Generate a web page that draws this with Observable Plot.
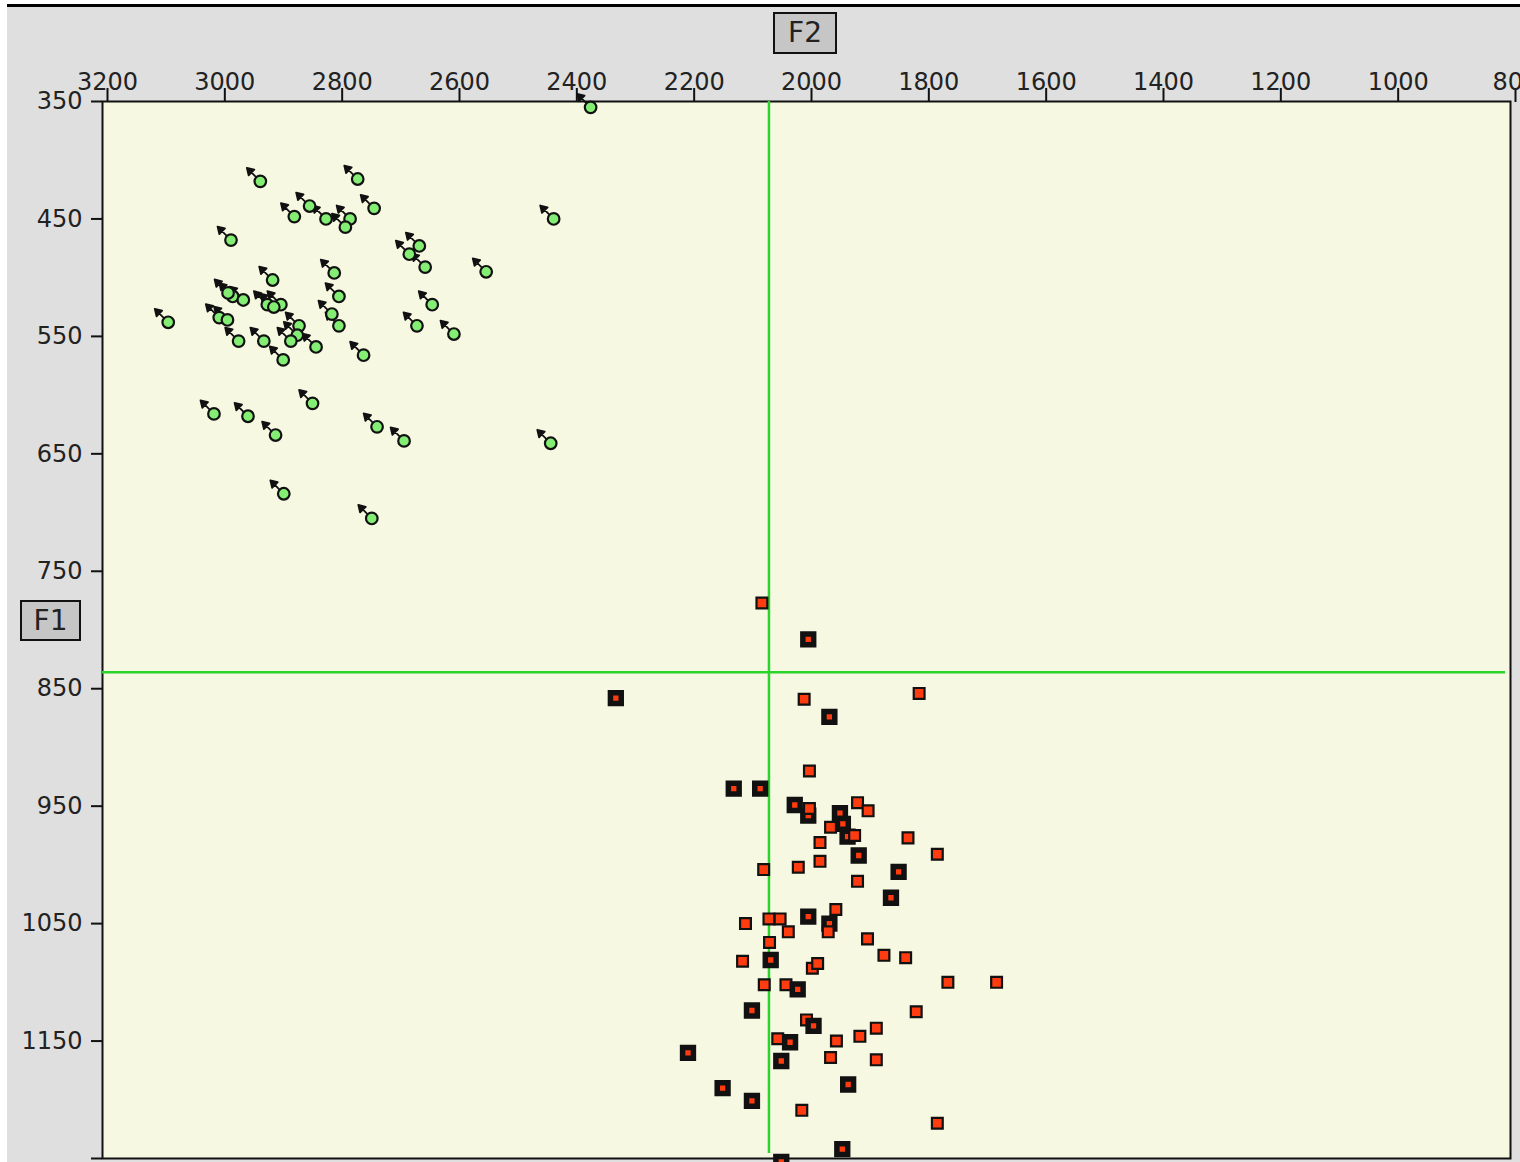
<!DOCTYPE html>
<html>
<head>
<meta charset="utf-8">
<script src="https://cdn.jsdelivr.net/npm/d3@7"></script>
<script src="https://cdn.jsdelivr.net/npm/@observablehq/plot@0.6"></script>
<style>
  html, body { margin: 0; padding: 0; overflow: hidden; background: #fff; width: 1520px; height: 1162px; }
  #bg { position: absolute; left: 7px; top: 4px; width: 1513px; height: 1158px; background: #dfdfdf; border-top: 3px solid #000; box-sizing: border-box; }
  #chart { position: absolute; left: 0; top: 0; }
  .lbl { position: absolute; box-sizing: border-box; border: 2px solid #111; background: #c6c6c6;
         font-family: "DejaVu Sans", sans-serif; font-size: 28px; color: #222; text-align: center; }
</style>
</head>
<body>
<div id="bg"></div>
<div id="chart"></div>
<div class="lbl" style="left:773px;top:12px;width:64px;height:42px;line-height:38px;">F2</div>
<div class="lbl" style="left:20px;top:600px;width:61px;height:41px;line-height:37px;">F1</div>
<script>
// Axis ticks
const xTicks = [3200, 3000, 2800, 2600, 2400, 2200, 2000, 1800, 1600, 1400, 1200, 1000, 800];
const yTicks = [350, 450, 550, 650, 750, 850, 950, 1050, 1150, 1250];

// Mean lines (green cross)
const meanF2 = 2064;
const meanF1 = 836;

// Green series (circles with arrows)
const greenF2 = [2931, 2765, 2847, 2873, 2819, 2778, 2786, 2737, 2981, 2660, 2677, 2650, 2546, 2805, 2910, 2797, 2978, 2960, 2919, 2896, 2908, 2638, 3088, 3001, 2987, 2809, 2797, 2664, 2601, 2865, 2868, 2968, 2925, 2879, 2836, 2892, 2755, 3010, 2952, 2905, 2842, 2732, 2686, 2436, 2891, 2741, 2368, 2431, 2986];
const greenF1 = [418, 416, 439, 448, 450, 450, 457, 441, 468, 473, 480, 491, 495, 496, 502, 516, 516, 519, 523, 523, 525, 523, 538, 534, 536, 531, 541, 541, 548, 541, 549, 554, 554, 554, 559, 570, 566, 616, 618, 634, 607, 627, 639, 641, 684, 705, 355, 450, 513];

// Red series (squares); type L = heavy border, s = light border
const redF2 = [2076, 1997, 2325, 2004, 1808, 1961, 1995, 2124, 2079, 2020, 1997, 1995, 1943, 1913, 1895, 1938, 1959, 1930, 1918, 1977, 1827, 1777, 1911, 1977, 2014, 2073, 1843, 1913, 1856, 1950, 1997, 1961, 1963, 2064, 2045, 2104, 2031, 2063, 1896, 2109, 2061, 1868, 1831, 1990, 1981, 2072, 2035, 2015, 1759, 1676, 2093, 1813, 2000, 1988, 1881, 2049, 2028, 1949, 1909, 2202, 2043, 1959, 1881, 2143, 1929, 2093, 2008, 1777, 1939, 2043];
const redF1 = [777, 808, 858, 859, 854, 874, 920, 935, 935, 949, 958, 952, 956, 947, 954, 965, 968, 976, 975, 981, 977, 991, 992, 997, 1002, 1004, 1006, 1014, 1028, 1038, 1044, 1050, 1057, 1046, 1046, 1050, 1057, 1066, 1063, 1082, 1081, 1077, 1079, 1088, 1084, 1102, 1102, 1106, 1100, 1100, 1124, 1125, 1132, 1137, 1139, 1148, 1151, 1150, 1146, 1160, 1167, 1164, 1166, 1190, 1187, 1201, 1209, 1220, 1242, 1253];
const redType = ["s","L","L","s","s","L","s","L","L","L","L","s","L","s","s","L","s","L","s","s","s","s","L","s","s","s","L","s","L","s","L","L","s","s","s","s","s","s","s","s","L","s","s","s","s","s","s","L","s","s","L","s","s","L","s","s","L","s","s","L","L","s","s","L","L","L","s","s","L","L"];

const green = greenF2.map((f2, i) => ({F2: f2, F1: greenF1[i]}));
const red = redF2.map((f2, i) => ({F2: f2, F1: redF1[i], type: redType[i]}));

const arrowShape = {
  draw(context, l) {
    context.moveTo(0, 0);
    context.lineTo(0, -l);
    context.moveTo(-4, -l + 6.5);
    context.lineTo(0, -l);
    context.lineTo(4, -l + 6.5);
    context.closePath();
  }
};

const chart = Plot.plot({
  width: 1520,
  height: 1162,
  marginLeft: 102,
  marginTop: 101,
  marginRight: 10,
  marginBottom: 4,
  style: {background: "transparent", fontFamily: "DejaVu Sans, sans-serif", color: "#222", overflow: "visible"},
  x: {domain: [3200, 800]},
  y: {domain: [350, 1250], reverse: true},
  marks: [
    Plot.frame({fill: "#f6f8e1", stroke: "#111", strokeWidth: 2}),
    Plot.ruleX([meanF2], {x: d => d, stroke: "#2bd42b", strokeWidth: 2.5, insetBottom: 5}),
    Plot.ruleY([meanF1], {y: d => d, stroke: "#2bd42b", strokeWidth: 2.5, insetRight: 5}),
    Plot.vector(green, {x: "F2", y: "F1", length: 19, rotate: -45, anchor: "start", shape: arrowShape, stroke: "#111", fill: "#111", strokeWidth: 1.8}),
    Plot.dot(green, {x: "F2", y: "F1", r: 5.8, fill: "#84ee74", stroke: "#111", strokeWidth: 2.2}),
    Plot.dot(red, {x: "F2", y: "F1", symbol: "square", r: 6.1, fill: "#ff3b10", stroke: "#111", strokeWidth: d => d.type === "L" ? 5.5 : 2.2}),
    Plot.axisX({anchor: "top", ticks: xTicks, tickSize: 14, tickPadding: -2, fontSize: 24, dx: 5, strokeWidth: 2, stroke: "#111", label: null, tickFormat: d => String(d)}),
    Plot.axisY({anchor: "left", ticks: yTicks, tickSize: 11, tickPadding: 9, fontSize: 24, strokeWidth: 2, stroke: "#111", label: null, tickFormat: d => d === 1250 ? "" : String(d)})
  ]
});
document.getElementById("chart").appendChild(chart);
</script>
</body>
</html>
